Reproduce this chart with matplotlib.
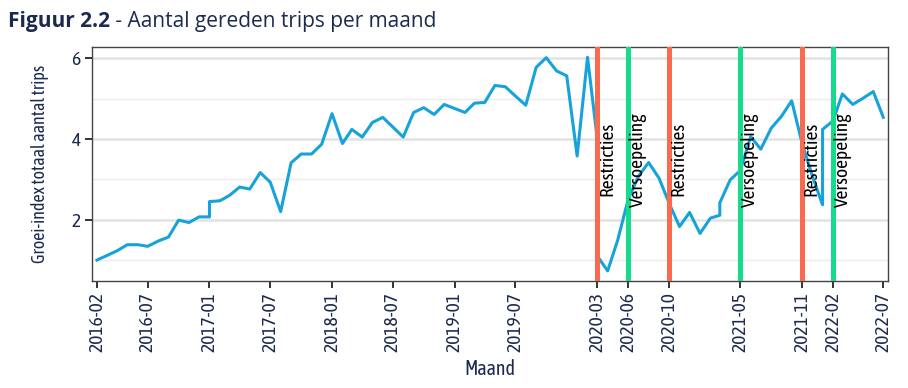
import pandas as pd
import matplotlib
matplotlib.use("Agg")
import matplotlib.pyplot as plt
import matplotlib.dates as mdates

# maanden (sommige maanden komen twee keer voor in de reeks)
maanden = [
    "2016-02", "2016-03", "2016-04", "2016-05", "2016-06", "2016-07", "2016-08", "2016-09",
    "2016-10", "2016-11", "2016-12", "2017-01", "2017-01", "2017-02", "2017-03", "2017-04",
    "2017-05", "2017-06", "2017-07", "2017-08", "2017-09", "2017-10", "2017-11", "2017-12",
    "2018-01", "2018-02", "2018-03", "2018-04", "2018-05", "2018-06", "2018-07", "2018-08",
    "2018-09", "2018-10", "2018-11", "2018-12", "2019-01", "2019-02", "2019-03", "2019-04",
    "2019-05", "2019-06", "2019-07", "2019-08", "2019-09", "2019-10", "2019-11", "2019-12",
    "2020-01", "2020-02", "2020-03", "2020-03", "2020-04", "2020-05", "2020-06", "2020-07",
    "2020-08", "2020-09", "2020-10", "2020-11", "2020-12", "2021-01", "2021-02", "2021-03",
    "2021-03", "2021-04", "2021-05", "2021-06", "2021-07", "2021-08", "2021-09", "2021-10",
    "2021-11", "2021-12", "2022-01", "2022-01", "2022-02", "2022-03", "2022-04", "2022-05",
    "2022-06", "2022-07",
]
groei_index = [
    1.00, 1.11, 1.23, 1.38, 1.38, 1.34, 1.47, 1.57,
    1.99, 1.93, 2.07, 2.07, 2.45, 2.47, 2.60, 2.81,
    2.76, 3.17, 2.93, 2.20, 3.41, 3.63, 3.63, 3.87,
    4.63, 3.89, 4.24, 4.05, 4.41, 4.54, 4.30, 4.05,
    4.66, 4.78, 4.61, 4.86, 4.76, 4.66, 4.89, 4.91,
    5.33, 5.30, 5.07, 4.84, 5.78, 6.02, 5.69, 5.57,
    3.58, 6.03, 4.00, 1.10, 0.73, 1.50, 2.50, 3.07,
    3.42, 3.03, 2.41, 1.83, 2.18, 1.66, 2.04, 2.11,
    2.42, 2.99, 3.22, 4.06, 3.75, 4.27, 4.57, 4.95,
    3.90, 3.10, 2.37, 4.24, 4.45, 5.12, 4.86, 5.01,
    5.18, 4.54,
]

# maatregelen
maatregel_maanden = ["2020-03", "2020-06", "2020-10", "2021-05", "2021-11", "2022-02"]
maatregel_labels = ["Restricties", "Versoepeling", "Restricties", "Versoepeling", "Restricties", "Versoepeling"]

tick_maanden = ["2016-02", "2016-07", "2017-01", "2017-07", "2018-01", "2018-07", "2019-01",
                "2019-07", "2020-03", "2020-06", "2020-10", "2021-05", "2021-11", "2022-02", "2022-07"]

kleur_lijn = "#17a3da"
kleur_rood = "#fa6a4e"
kleur_groen = "#14dc8a"
navy = "#1b2a4e"
cond = ["Asap Condensed", "DejaVu Sans"]
titel_font = ["Open Sans", "DejaVu Sans"]

x = pd.to_datetime(maanden)
fig = plt.figure(figsize=(9.08, 3.88), dpi=100)
ax = fig.add_axes([0.1013, 0.2758, 0.8767, 0.6031])

for y in [1, 3, 5]:
    ax.axhline(y, color="#ececec", lw=1.0, zorder=0)
for y in [2, 4, 6]:
    ax.axhline(y, color="#e3e3e3", lw=1.8, zorder=0)

ax.plot(x, groei_index, color=kleur_lijn, lw=2.2, zorder=2)

for m, lab in zip(maatregel_maanden, maatregel_labels):
    d = pd.to_datetime(m)
    c = kleur_rood if lab == "Restricties" else kleur_groen
    ax.axvline(d, color=c, lw=3.6, zorder=3)
    ax.text(d + pd.Timedelta(days=2), 3.5, lab, rotation=90, ha="left", va="center",
            fontsize=14, family=cond, color="black", zorder=4)

ax.set_xlim(pd.to_datetime("2016-02-01") - pd.Timedelta(days=15),
            pd.to_datetime("2022-07-01") + pd.Timedelta(days=14))
ax.set_ylim(0.48, 6.285)
ax.set_yticks([2, 4, 6])
ax.set_xticks(pd.to_datetime(tick_maanden))
ax.xaxis.set_major_formatter(mdates.DateFormatter("%Y-%m"))
ax.tick_params(axis="x", rotation=90)
ax.tick_params(length=5, width=1.4, color="#333333", labelcolor=navy, labelsize=14, pad=3)
for lab in ax.get_xticklabels() + ax.get_yticklabels():
    lab.set_family(cond)
for s in ax.spines.values():
    s.set_color("#444444")
    s.set_linewidth(1.0)

ax.set_xlabel("Maand", family=cond, fontsize=14.5, color=navy, labelpad=5)
ax.set_ylabel("Groei-index totaal aantal trips", family=cond, fontsize=13, color=navy, labelpad=16)

# titel: vetgedrukt deel + gewoon deel
t1 = fig.text(8 / 908, 1 - 22 / 388, "Figuur 2.2", fontsize=15, fontweight="bold",
              family=titel_font, color=navy, va="center")
fig.canvas.draw()
bb = t1.get_window_extent()
fig.text(bb.x1 / fig.bbox.width, 1 - 22 / 388, " - Aantal gereden trips per maand", fontsize=15,
         family=titel_font, color=navy, va="center")

fig.savefig("out.png", dpi=100)
